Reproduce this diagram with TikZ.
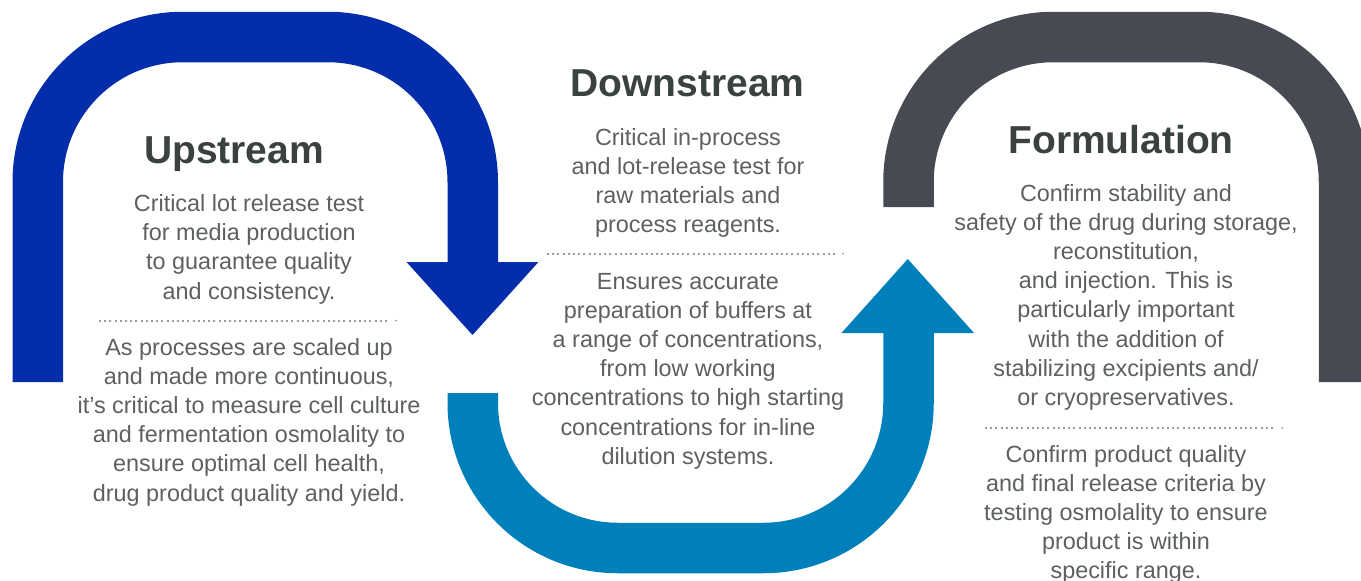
\documentclass[tikz,border=0pt]{standalone}
\usepackage{fontspec}
\setmainfont{Liberation Sans}
\definecolor{darkblue}{HTML}{032DAB}
\definecolor{lightblue}{HTML}{0080BB}
\definecolor{slategrey}{HTML}{474A52}
\definecolor{titlecol}{HTML}{3A4240}
\definecolor{bodycol}{HTML}{5C605F}
\definecolor{dotcol}{HTML}{999B9B}
\newcommand\lns[1]{\begin{tabular}[t]{@{}c@{}}#1\end{tabular}}
\begin{document}
\begin{tikzpicture}[x=1pt,y=-1pt,
  band/.style={line width=50.5pt, rounded corners=145pt},
  title/.style={font=\bfseries\fontsize{39}{46}\selectfont, text=titlecol, inner sep=0pt, anchor=base},
  body/.style={font=\fontsize{23.4}{29.2}\selectfont, text=bodycol, inner sep=0pt, anchor=base},
  sepline/.style={line width=1.9pt, dash pattern=on 1.9pt off 3.3pt, draw=dotcol}]
\useasboundingbox (0,0) rectangle (1361,581);
\clip (0,0) rectangle (1361,581);
% upstream arch (dark blue) with downward arrow
\draw[band, darkblue] (37.75,382) -- (37.75,37) -- (472.75,37) -- (472.75,263);
\fill[darkblue] (406.5,262) -- (538.5,262) -- (472.5,335) -- cycle;
% downstream U (light blue) with upward arrow
\draw[band, lightblue] (472.75,393) -- (472.75,548) -- (908.5,548) -- (908.5,332);
\fill[lightblue] (841.5,333) -- (974,333) -- (907.75,259) -- cycle;
% formulation arch (grey)
\draw[band, slategrey] (908.5,207) -- (908.5,37) -- (1344,37) -- (1344,382);
% Upstream
\node[title] (upt) at (234,163) {Upstream};
\node[body] (upa) at (249,211.5) {\lns{Critical lot release test\\for media production\\to guarantee quality\\and consistency.}};
\coordinate (ups1) at (99,320.7);
\coordinate (ups2) at (389,320.7);
\coordinate (ups3) at (396,320.7);
\draw[sepline] (ups1) -- (ups2);
\fill[dotcol] (ups3) circle (1pt);
\node[body] (upb) at (249,355) {\lns{As processes are scaled up\\and made more continuous,\\it’s critical to measure cell culture\\and fermentation osmolality to\\ensure optimal cell health,\\drug product quality and yield.}};
% Downstream
\node[title] (dnt) at (687.5,96.7) {Downstream};
\node[body] (dna) at (688,145) {\lns{Critical in-process\\and lot-release test for\\raw materials and\\process reagents.}};
\coordinate (dns1) at (547,253.7);
\coordinate (dns2) at (836,253.7);
\coordinate (dns3) at (843,253.7);
\draw[sepline] (dns1) -- (dns2);
\fill[dotcol] (dns3) circle (1pt);
\node[body] (dnb) at (688,289) {\lns{Ensures accurate\\preparation of buffers at\\a range of concentrations,\\from low working\\concentrations to high starting\\concentrations for in-line\\dilution systems.}};
% Formulation
\node[title] (fot) at (1121,153) {Formulation};
\node[body] (foa) at (1126,201) {\lns{Confirm stability and\\safety of the drug during storage,\\reconstitution,\\and injection. This is\\particularly important\\with the addition of\\stabilizing excipients and/\\or cryopreservatives.}};
\coordinate (fos1) at (985,428);
\coordinate (fos2) at (1275,428);
\coordinate (fos3) at (1282,428);
\draw[sepline] (fos1) -- (fos2);
\fill[dotcol] (fos3) circle (1pt);
\node[body] (fob) at (1126,462) {\lns{Confirm product quality\\and final release criteria by\\testing osmolality to ensure\\product is within\\specific range.}};
\end{tikzpicture}
\end{document}
